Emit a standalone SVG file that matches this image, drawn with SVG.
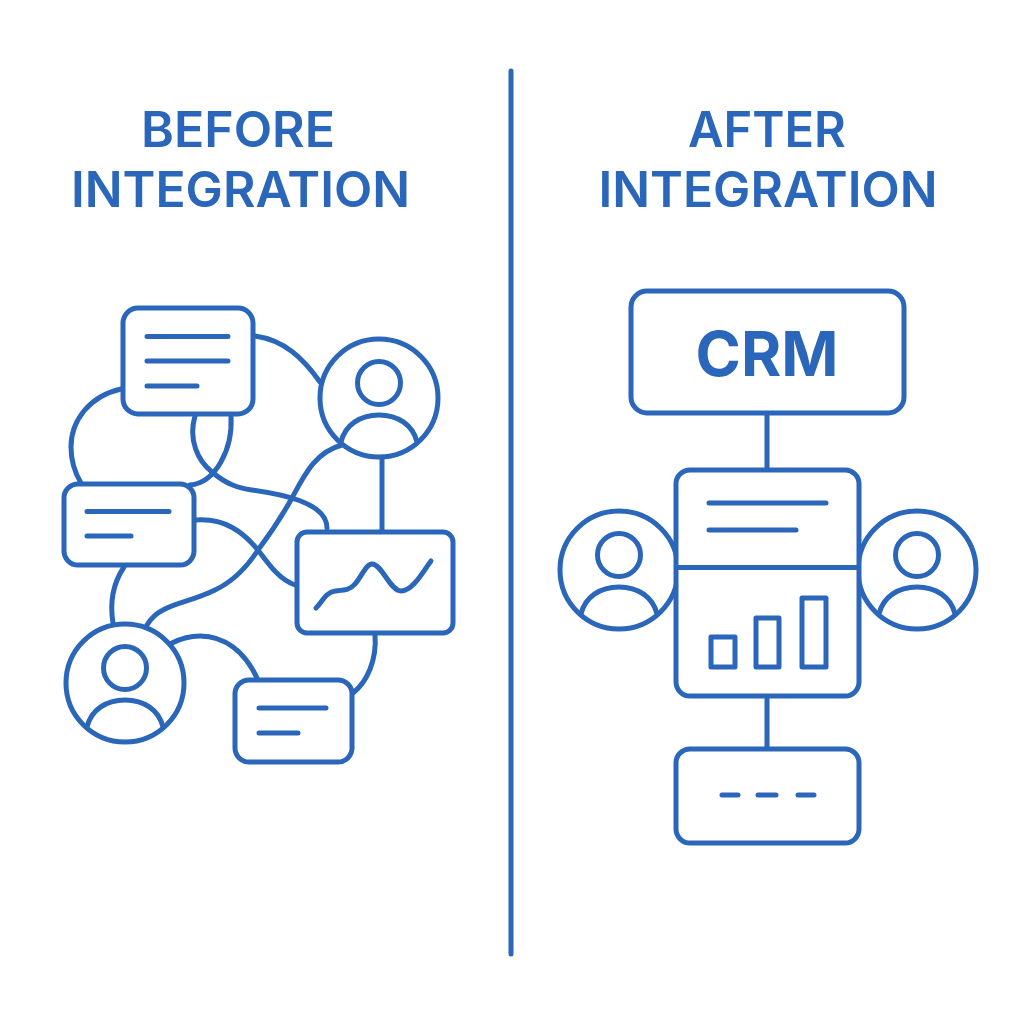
<svg xmlns="http://www.w3.org/2000/svg" width="1024" height="1024" viewBox="0 0 1024 1024">
<style>
.s{fill:none;stroke:#2a66b9;stroke-width:5;stroke-linecap:round;stroke-linejoin:round}
.b{fill:#fff;stroke:#2a66b9;stroke-width:5}
.t{font-family:"Inter","Liberation Sans",sans-serif;font-weight:600;fill:#2a66b9;text-anchor:middle}
</style>
<defs>
<g id="user">
<circle class="b" r="59"/>
<circle class="s" cy="-15" r="21.500"/>
<path class="s" d="M-38,44C-34,27 -19,17 0,17C19,17 34,27 38,44"/>
</g>
</defs>
<rect width="1024" height="1024" fill="#fff"/>
<line class="s" x1="511" y1="71" x2="511" y2="954"/>
<text class="t" font-size="49" x="238" y="147" textLength="194" lengthAdjust="spacingAndGlyphs">BEFORE</text>
<text class="t" font-size="49" x="240.500" y="207" textLength="339" lengthAdjust="spacingAndGlyphs">INTEGRATION</text>
<text class="t" font-size="49" x="767" y="147" textLength="158" lengthAdjust="spacingAndGlyphs">AFTER</text>
<text class="t" font-size="49" x="768" y="207" textLength="339" lengthAdjust="spacingAndGlyphs">INTEGRATION</text>
<g id="connectors">
<path class="s" d="M255,336C284,340 303,358 320,382"/>
<path class="s" d="M121,389C90,396 71,420 71,447C71,462 75,473 81,483"/>
<path class="s" d="M195,416C188,440 198,461 212,472C226,484 238,488 252,490C280,494 327,502 327,528"/>
<path class="s" d="M231,416C233,450 215,483 190,485"/>
<path class="s" d="M196,520C225,518 243,532 258,550C270,566 280,580 295,585"/>
<path class="s" d="M342,445C315,452 304,476 292,498C282,516 270,534 258,550C245,570 232,582 215,590C195,600 175,603 163,610C155,614 150,620 147,625"/>
<line class="s" x1="382" y1="457" x2="382" y2="532"/>
<path class="s" d="M124,567C112,585 110,605 113,623"/>
<path class="s" d="M172,643C182,638 190,636 200,636C225,636 245,652 257,678"/>
<path class="s" d="M375,635C377,660 367,682 353,693"/>
<line class="s" x1="767" y1="413" x2="767" y2="469"/>
<line class="s" x1="767" y1="696" x2="767" y2="748"/>
</g>
<g id="before-doc-1">
<rect class="b" x="123" y="308" width="130" height="106" rx="15"/>
<path class="s" d="M147,336.500H228M147,361H228M147,386H197"/>
</g>
<g id="before-doc-2">
<rect class="b" x="64" y="484" width="130" height="81" rx="14"/>
<path class="s" d="M87,511.500H169M87,536H131"/>
</g>
<g id="before-doc-3">
<rect class="b" x="235" y="680" width="117" height="82" rx="14"/>
<path class="s" d="M259,708H326M259,733H298"/>
</g>
<g id="before-chart">
<rect class="b" x="297" y="532" width="156" height="101" rx="10"/>
<path class="s" d="M316,608C322,602 326,592 335,591C345,590 350,590 355,584C362,576 366,564 372,564C382,564 390,591 401,591C413,591 424,570 431,561"/>
</g>
<g id="before-user-1"><use href="#user" x="379" y="398"/></g>
<g id="before-user-2"><use href="#user" x="125" y="683"/></g>
<g id="crm">
<rect class="b" x="631" y="291" width="273" height="122" rx="16"/>
<text class="t" font-size="62" x="767" y="376" style="font-weight:700" textLength="143" lengthAdjust="spacingAndGlyphs">CRM</text>
</g>
<g id="after-user-left"><use href="#user" x="619" y="570"/></g>
<g id="after-user-right"><use href="#user" x="917" y="570"/></g>
<g id="dashboard">
<rect class="b" x="676" y="470" width="183" height="226" rx="14"/>
<path class="s" d="M678,567.500H857M709,503H826M709,530H796"/>
<rect class="s" x="711" y="637" width="24" height="30"/>
<rect class="s" x="756" y="618" width="23" height="49"/>
<rect class="s" x="802" y="598" width="24" height="69"/>
</g>
<g id="after-bar">
<rect class="b" x="676" y="749" width="183" height="94" rx="14"/>
<path class="s" d="M722,795H738M758,795H776M798,795H814"/>
</g>
</svg>
